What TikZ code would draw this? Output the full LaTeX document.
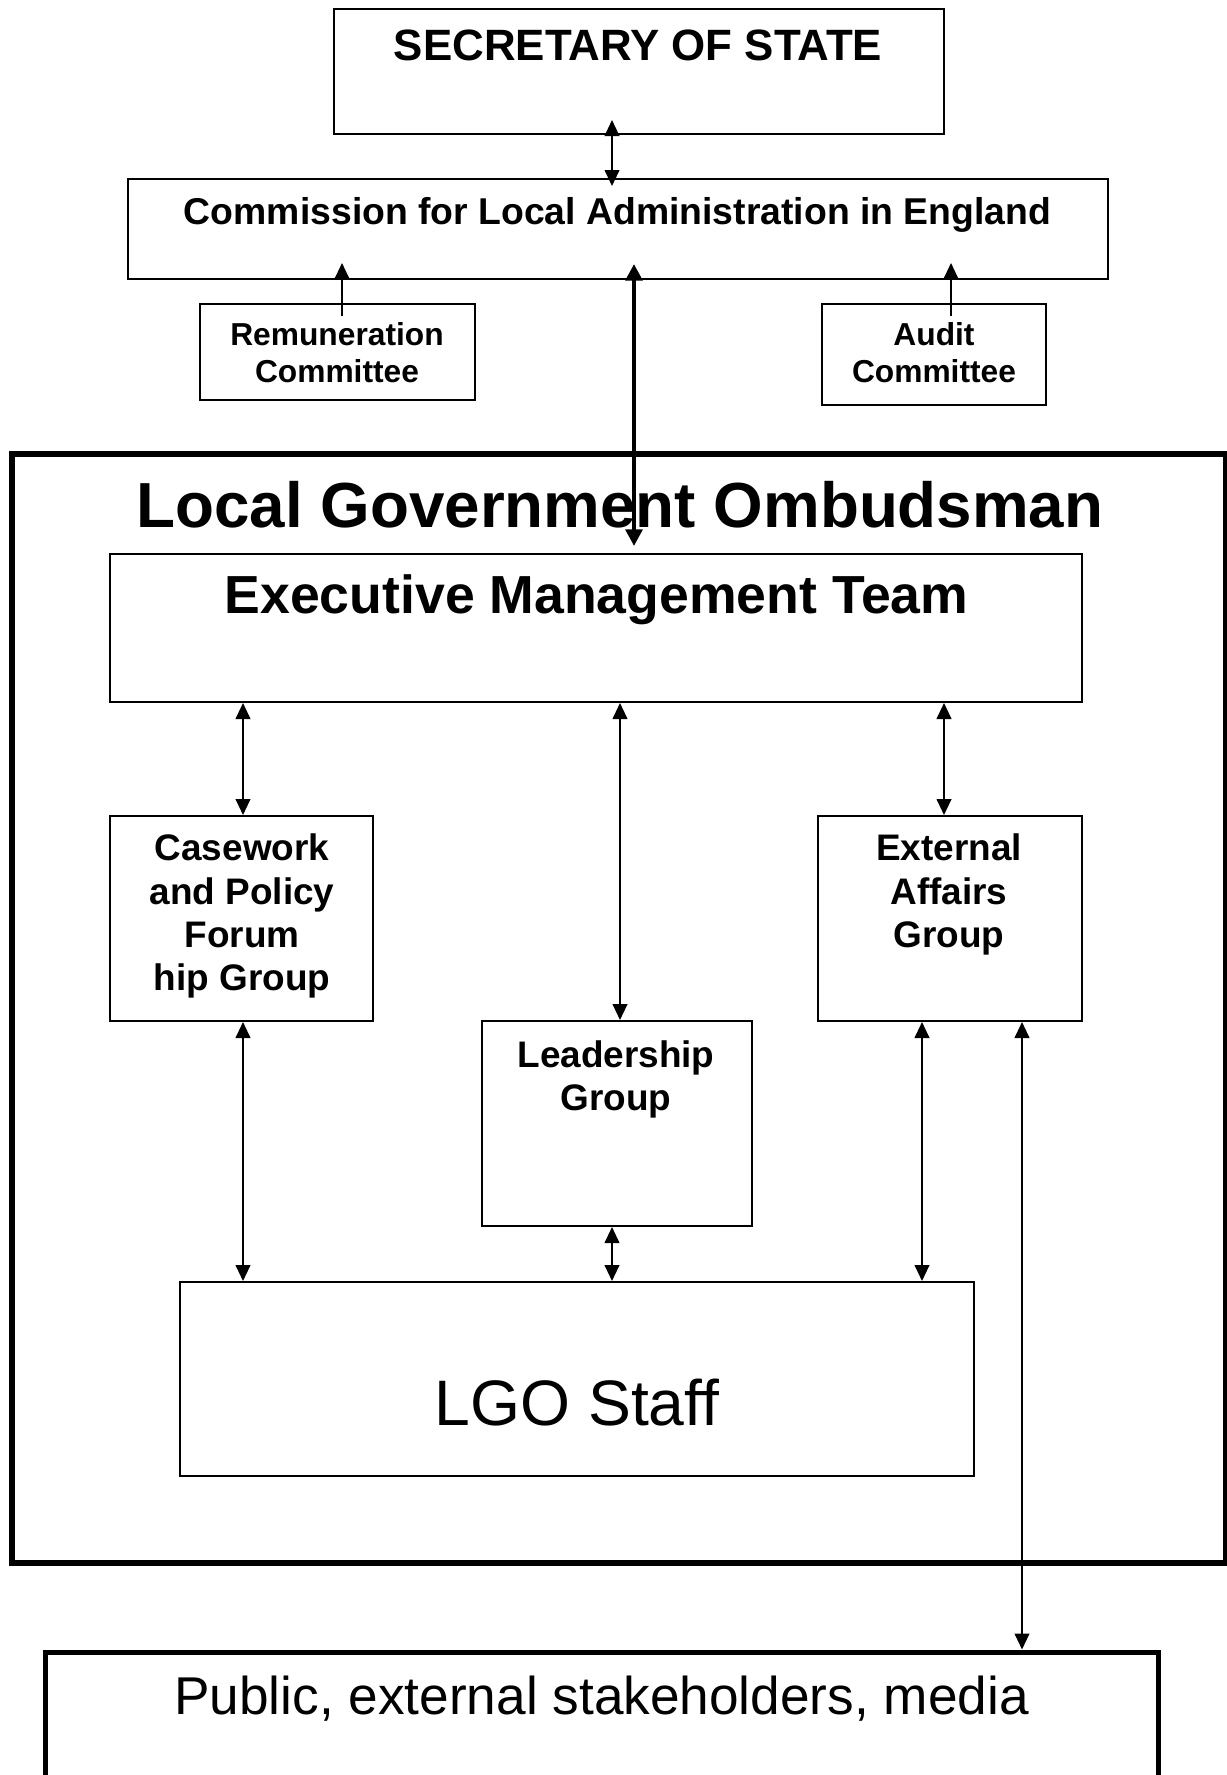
\documentclass[tikz,border=0pt]{standalone}
\usepackage{fontspec}
\setmainfont{Liberation Sans}
\usetikzlibrary{arrows.meta,calc,fit}
\tikzset{
  box/.style={draw, line width=1.5pt, inner sep=0pt},
  heavybox/.style={draw, line width=4.5pt, inner sep=0pt},
  tip/.tip={Triangle[length=12pt,width=11pt]},
  bigtip/.tip={Triangle[length=12.5pt,width=12.5pt]},
  arr/.style={line width=1.5pt, -tip},
  dblarr/.style={line width=1.5pt, tip-tip},
  thickarr/.style={line width=3pt, bigtip-bigtip},
  lbl/.style={inner sep=0pt, anchor=base},
  bf/.style={font=\bfseries\fontsize{#1}{#1}\selectfont},
  rm/.style={font=\fontsize{#1}{#1}\selectfont},
}
\begin{document}
\begin{tikzpicture}[x=0.75pt,y=-0.75pt]
\useasboundingbox (0,0) rectangle (1227,1775);
% boxes
\node[box, fit={(334,9) (944,134)}] (sos) {};
\node[box, fit={(128,179) (1108,279)}] (com) {};
\node[box, fit={(200,304) (475,400)}] (rem) {};
\node[box, fit={(822,304) (1046,405)}] (aud) {};
\node[heavybox, fit={(12,454) (1226,1563)}] (lgo) {};
\node[box, fit={(110,554) (1082,702)}] (emt) {};
\node[box, fit={(110,816) (373,1021)}] (cpf) {};
\node[box, fit={(818,816) (1082,1021)}] (eag) {};
\node[box, fit={(482,1021) (752,1226)}] (lead) {};
\node[box, fit={(180,1282) (974,1476)}] (staff) {};
\node[draw, line width=3.75pt, inner sep=0pt, fit={(45,1652) (1158,1800)}] (pub) {};
% texts
\node[lbl, bf=32.9] (sost) at (638,60) {SECRETARY OF STATE};
\node[lbl, bf=28] (comt) at (617.5,224) {Commission for Local Administration in England};
\node[lbl, bf=23.8] (remt1) at (337,345) {Remuneration};
\node[lbl, bf=23.8] (remt2) at (337,382) {Committee};
\node[lbl, bf=23.8] (audt1) at (934,345) {Audit};
\node[lbl, bf=23.8] (audt2) at (934,382) {Committee};
\node[lbl, bf=47.8] (lgot) at (620,527) {Local Government Ombudsman};
\node[lbl, bf=40.2] (emtt) at (596.5,613) {Executive Management Team};
\node[lbl, bf=27.7] (cpft1) at (242,860) {Casework};
\node[lbl, bf=27.7] (cpft2) at (242,904) {and Policy};
\node[lbl, bf=27.7] (cpft3) at (242,947) {Forum};
\node[lbl, bf=27.7] (cpft4) at (242,990) {hip Group};
\node[lbl, bf=27.7] (eagt1) at (949,860) {External};
\node[lbl, bf=27.7] (eagt2) at (949,904) {Affairs};
\node[lbl, bf=27.7] (eagt3) at (949,947) {Group};
\node[lbl, bf=27.7] (leadt1) at (616,1067) {Leadership};
\node[lbl, bf=27.7] (leadt2) at (616,1110) {Group};
\node[lbl, rm=48.2] (stafft) at (577,1425) {LGO Staff};
\node[lbl, rm=39.9] (pubt) at (601.5,1714) {Public, external stakeholders, media};
% x positions of connectors
\coordinate (x1) at (612,0);
\coordinate (x2) at (342,0);
\coordinate (x3) at (951,0);
\coordinate (x4) at (634,0);
\coordinate (x5) at (243,0);
\coordinate (x6) at (620,0);
\coordinate (x7) at (944,0);
\coordinate (x8) at (612,0);
\coordinate (x9) at (922,0);
\coordinate (x10) at (1022,0);
% connectors
\draw[dblarr] ($(sos.south -| x1)+(0,-15)$) -- ($(com.north -| x1)+(0,8)$);
\draw[arr] ($(rem.north -| x2)+(0,13)$) -- ($(com.south -| x2)+(0,-17)$);
\draw[arr] ($(aud.north -| x3)+(0,13)$) -- ($(com.south -| x3)+(0,-17)$);
\draw[thickarr] ($(com.south -| x4)+(0,-16)$) -- ($(emt.north -| x4)+(0,-7)$);
\draw[dblarr] (emt.south -| x5) -- (cpf.north -| x5);
\draw[dblarr] (emt.south -| x6) -- (lead.north -| x6);
\draw[dblarr] (emt.south -| x7) -- (eag.north -| x7);
\draw[dblarr] (cpf.south -| x5) -- (staff.north -| x5);
\draw[dblarr] (lead.south -| x8) -- (staff.north -| x8);
\draw[dblarr] (eag.south -| x9) -- (staff.north -| x9);
\draw[dblarr] (eag.south -| x10) -- (pub.north -| x10);
\end{tikzpicture}
\end{document}
